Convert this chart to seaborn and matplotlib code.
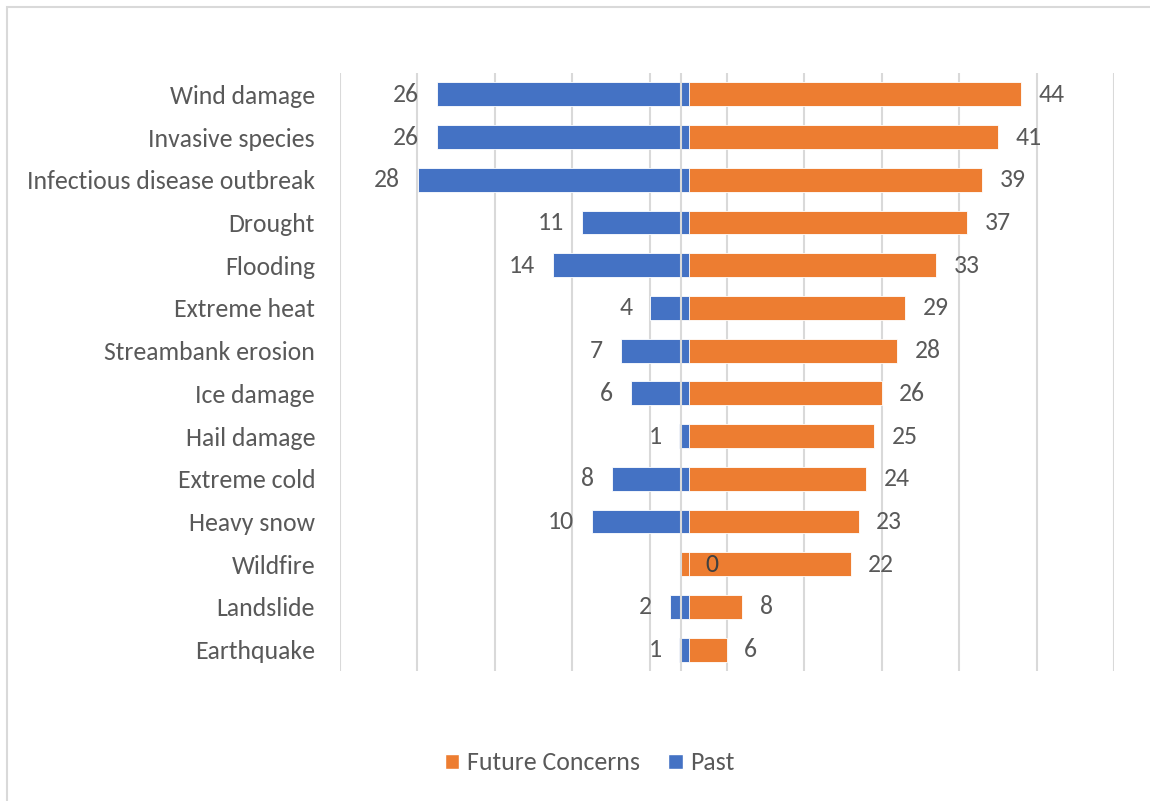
import matplotlib
matplotlib.use("Agg")
import matplotlib.pyplot as plt
import matplotlib.transforms as mtransforms
from matplotlib.lines import Line2D
from matplotlib.patches import Patch, Rectangle
import seaborn as sns
import pandas as pd

categories = [
    "Wind damage", "Invasive species", "Infectious disease outbreak", "Drought",
    "Flooding", "Extreme heat", "Streambank erosion", "Ice damage",
    "Hail damage", "Extreme cold", "Heavy snow", "Wildfire", "Landslide",
    "Earthquake",
]
future = [44, 41, 39, 37, 33, 29, 28, 26, 25, 24, 23, 22, 8, 6]
past = [26, 26, 28, 11, 14, 4, 7, 6, 1, 8, 10, 0, 2, 1]

BLUE = "#4472C4"
ORANGE = "#ED7D31"
TEXT = "#595959"
GRID = "#D9D9D9"

sns.set_theme(style="white")
plt.rcParams["font.family"] = ["Carlito", "Lato", "DejaVu Sans"]
FS = 18.5

df = pd.DataFrame({"category": categories, "future": future,
                   "past_neg": [-p for p in past]})

W, H = 1150, 801
fig = plt.figure(figsize=(W / 100, H / 100), dpi=100)
fig.patch.set_facecolor("white")

# chart frame
fig.add_artist(Rectangle((7 / W, -0.05), 1.2, 1 - 7 / H + 0.05,
                         transform=fig.transFigure, fill=False,
                         edgecolor=GRID, linewidth=1.5))

left, right, top, bottom = 340, 1114, 73, 671
ax = fig.add_axes([left / W, 1 - bottom / H, (right - left) / W, (bottom - top) / H])

# future concerns on the primary axis
sns.barplot(data=df, y="category", x="future", orient="h", ax=ax,
            color=ORANGE, saturation=1, width=0.56,
            edgecolor="white", linewidth=0.6)
ax.set_xlim(-44, 56)
ax.set_xticks(range(-44, 57, 10))
ax.grid(axis="x", color=GRID, linewidth=1.5)
ax.grid(axis="y", visible=False)
ax.set_axisbelow(True)

# past events on a secondary axis, drawn leftward
ax2 = ax.twiny()
sns.barplot(data=df, y="category", x="past_neg", orient="h", ax=ax2,
            color=BLUE, saturation=1, width=0.56,
            edgecolor="white", linewidth=0.6)
ax2.set_xlim(-36, 43.8)

for a in (ax, ax2):
    for s in a.spines.values():
        s.set_visible(False)
    a.set_xlabel("")
    a.set_ylabel("")
    a.tick_params(axis="x", length=0, labelbottom=False, labeltop=False)
ax2.set_xticks([])
ax.tick_params(axis="y", length=0, pad=18, labelsize=FS, labelcolor=TEXT)
ax2.tick_params(axis="y", length=0, labelleft=False)

# vertical axis line at the future-concerns zero
trans = mtransforms.blended_transform_factory(ax.transData, ax2.transAxes)
ax2.add_line(Line2D([0, 0], [0, 1], transform=trans, color=GRID,
                    linewidth=1.5, zorder=5))

# value labels
for i, (f, p) in enumerate(zip(future, past)):
    ax.annotate(str(f), (f, i), xytext=(12.5, 0), textcoords="offset points",
                ha="left", va="center", fontsize=FS, color=TEXT)
    if p > 0:
        ax2.annotate(str(p), (-p, i), xytext=(-13, 0), textcoords="offset points",
                     ha="right", va="center", fontsize=FS, color=TEXT, zorder=6)
    else:
        ax2.annotate(str(p), (0, i), xytext=(12, 0), textcoords="offset points",
                     ha="left", va="center", fontsize=FS, color="#404040", zorder=6)

handles = [Patch(facecolor=ORANGE, label="Future Concerns"),
           Patch(facecolor=BLUE, label="Past")]
fig.legend(handles=handles, loc="center", bbox_to_anchor=(590 / W, 1 - 763 / H),
           ncol=2, frameon=False, fontsize=FS, labelcolor=TEXT,
           handlelength=0.55, handleheight=0.55, handletextpad=0.3,
           columnspacing=1.1)

fig.savefig("out.png", dpi=100, facecolor="white")
